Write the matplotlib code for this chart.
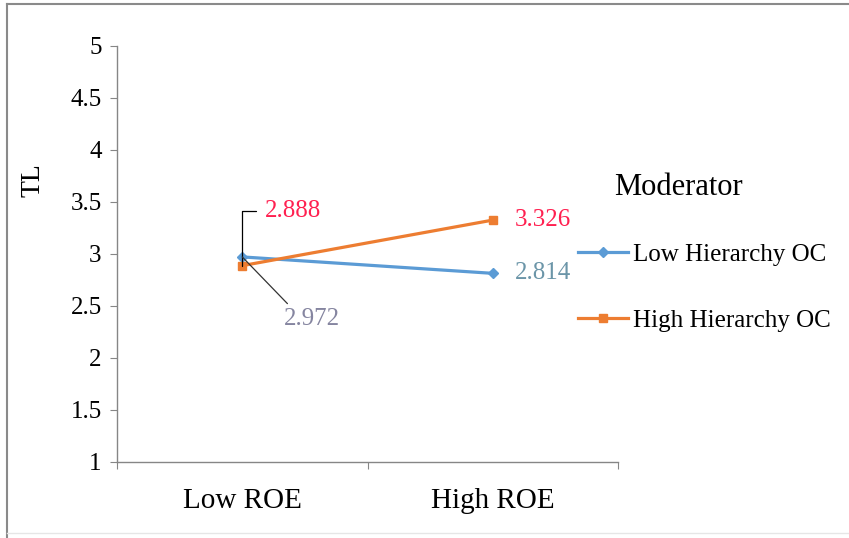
import matplotlib.pyplot as plt
from matplotlib.lines import Line2D

plt.rcParams['font.family'] = ['Liberation Serif', 'DejaVu Serif']

# data
categories = ['Low ROE', 'High ROE']
series_names = ['Low Hierarchy OC', 'High Hierarchy OC']
low_oc = [2.972, 2.814]
high_oc = [2.888, 3.326]
yticks = [1, 1.5, 2, 2.5, 3, 3.5, 4, 4.5, 5]

blue = '#5B9BD5'
orange = '#ED7D31'

fig = plt.figure(figsize=(8.49, 5.38), dpi=100)
ax = fig.add_axes([117 / 849, 1 - 462 / 538, (618 - 117) / 849, (462 - 46) / 538])

xs = [0.5, 1.5]
ax.plot(xs, low_oc, color=blue, lw=2.3, marker='D', ms=5, label=series_names[0])
ax.plot(xs, high_oc, color=orange, lw=2.3, marker='s', ms=6, label=series_names[1])

ax.set_xlim(0, 2)
ax.set_ylim(1, 5)
ax.set_yticks(yticks)
ax.set_yticklabels(['1', '1.5', '2', '2.5', '3', '3.5', '4', '4.5', '5'], fontsize=18)
ax.set_xticks([0, 1, 2])
ax.set_xticklabels([])
ax.set_xticks(xs, minor=True)
ax.set_xticklabels(categories, minor=True, fontsize=21)
ax.tick_params(axis='x', which='minor', length=0, pad=19)
ax.tick_params(axis='x', which='major', length=5, color='#868686')
ax.tick_params(axis='y', length=5, color='#868686', pad=6)
for s in ['top', 'right']:
    ax.spines[s].set_visible(False)
for s in ['left', 'bottom']:
    ax.spines[s].set_color('#868686')
    ax.spines[s].set_linewidth(1)

# axis title sits high, next to the 3.5-4 ticks
fig.text(33 / 849, 1 - 180 / 538, 'TL', fontsize=20, rotation=90, ha='center', va='center')

red = '#FF2050'
# data labels
ax.annotate(f'{high_oc[0]:.3f}', xy=(xs[0], high_oc[0]), xytext=(16, 39), textcoords='offset points',
            fontsize=18, color=red, ha='left', va='center',
            arrowprops=dict(arrowstyle='-', color='black', lw=0.9, shrinkA=4, shrinkB=0,
                            relpos=(0, 0.5), connectionstyle='angle,angleA=0,angleB=90,rad=0'))
ax.annotate(f'{low_oc[0]:.3f}', xy=(xs[0], low_oc[0]), xytext=(50, -45), textcoords='offset points',
            fontsize=18, color='#8585A0', ha='center', va='center',
            arrowprops=dict(arrowstyle='-', color='#333333', lw=0.9, shrinkA=2, shrinkB=0,
                            relpos=(0.15, 1.0)))
ax.annotate(f'{high_oc[1]:.3f}', xy=(xs[1], high_oc[1]), xytext=(16, 0), textcoords='offset points',
            fontsize=18, color=red, ha='left', va='center')
ax.annotate(f'{low_oc[1]:.3f}', xy=(xs[1], low_oc[1]), xytext=(16, 0), textcoords='offset points',
            fontsize=18, color='#6B95A8', ha='left', va='center')

# legend
fig.text(614 / 849, 1 - 187 / 538, 'Moderator', fontsize=22, ha='left', va='center')
leg = fig.legend(loc='upper left', bbox_to_anchor=(578 / 849, 1 - 243 / 538), frameon=False,
                 fontsize=18, handlelength=2.0, handletextpad=0.2, labelspacing=1.75,
                 borderpad=0, borderaxespad=0)

# outer border
fig.add_artist(Line2D([7 / 849, 7 / 849], [0, 1 - 4 / 538], color='#8a8a8a', lw=1.5, transform=fig.transFigure))
fig.add_artist(Line2D([7 / 849, 1], [1 - 4 / 538, 1 - 4 / 538], color='#8a8a8a', lw=1.5, transform=fig.transFigure))
fig.add_artist(Line2D([7 / 849, 1], [1 - 533 / 538, 1 - 533 / 538], color='#e6e6e6', lw=1, transform=fig.transFigure))

fig.savefig('out.png', dpi=100)
